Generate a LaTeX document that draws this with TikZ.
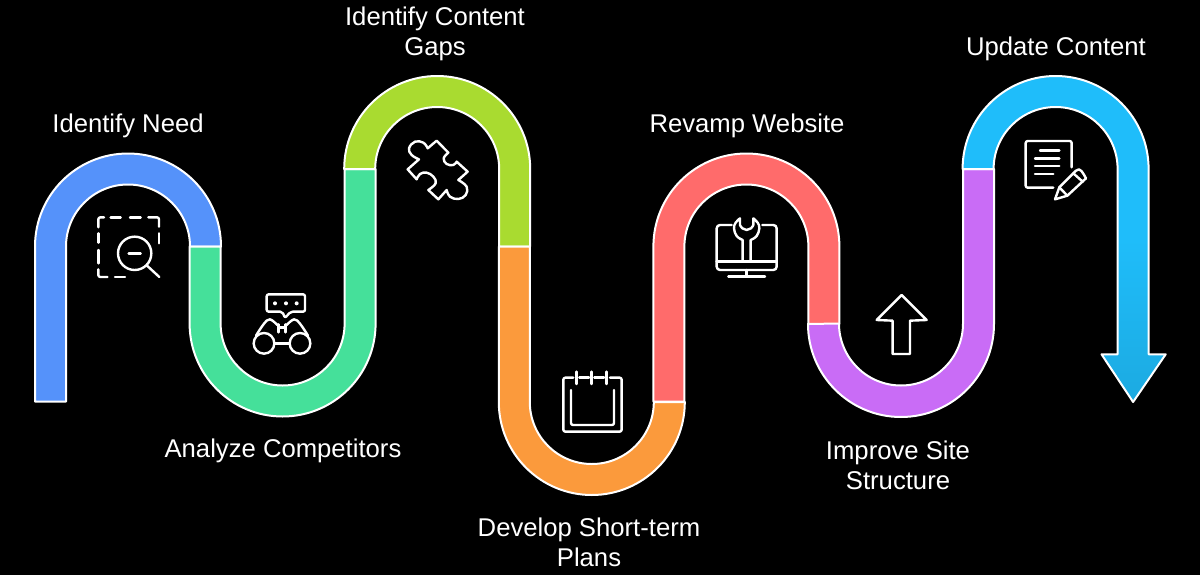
\documentclass[tikz,border=0pt]{standalone}
\usepackage{fontspec}
\setmainfont{Liberation Sans}
\definecolor{cblue}{HTML}{5592FA}
\definecolor{cgreen}{HTML}{45E09A}
\definecolor{clime}{HTML}{A9DB30}
\definecolor{corange}{HTML}{FB9A3C}
\definecolor{cred}{HTML}{FF6B6B}
\definecolor{cpurple}{HTML}{C96CF6}
\definecolor{ccyan}{HTML}{1FBDFA}
\begin{document}
\begin{tikzpicture}[x=0.75pt,y=-0.75pt,font=\fontsize{19.25pt}{22.5pt}\selectfont]
	
	% Styles for the ribbon, the icons and the labels
	\tikzset{
		band/.style={draw=white,line width=1.5pt,line join=round},
		icon/.style={draw=white,line width=1.8pt,line join=round,line cap=round},
		steplabel/.style={text=white,align=center,inner sep=0pt}
	}
	
	% Background
	\fill[black] (0,0) rectangle (1200,575);
	
	%========================================
	% Ribbon
	%========================================
	
	% Identify Need
	\draw[band,fill=cblue] (35,401.5) -- (35,246.5) arc[start angle=180,end angle=360,radius=93]
	-- (190,246.5) arc[start angle=360,end angle=180,radius=62] -- (66,401.5) -- cycle;
	
	% Analyze Competitors
	\draw[band,fill=cgreen] (189.6,246.5) -- (189.6,323.5) arc[start angle=180,end angle=0,radius=93]
	-- (375.6,169) -- (344.6,169) -- (344.6,323.5) arc[start angle=0,end angle=180,radius=62] -- (220.6,246.5) -- cycle;
	
	% Identify Content Gaps
	\draw[band,fill=clime] (344.2,169) arc[start angle=180,end angle=360,radius=93]
	-- (530.2,246.5) -- (499.2,246.5) -- (499.2,169) arc[start angle=360,end angle=180,radius=62] -- cycle;
	
	% Develop Short-term Plans
	\draw[band,fill=corange] (498.8,246.5) -- (498.8,402) arc[start angle=180,end angle=0,radius=93]
	-- (653.8,402) arc[start angle=0,end angle=180,radius=62] -- (529.8,246.5) -- cycle;
	
	% Revamp Website
	\draw[band,fill=cred] (653.4,401.5) -- (653.4,246.5) arc[start angle=180,end angle=360,radius=93]
	-- (839.4,324) -- (808.4,324) -- (808.4,246.5) arc[start angle=360,end angle=180,radius=62] -- (684.4,401.5) -- cycle;
	
	% Improve Site Structure
	\draw[band,fill=cpurple] (808,324) arc[start angle=180,end angle=0,radius=93]
	-- (994,169) -- (963,169) -- (963,323.5) arc[start angle=0,end angle=180,radius=62] -- cycle;
	
	% Update Content
	\draw[band,top color=ccyan,bottom color=ccyan!90!black,middle color=ccyan] (962.6,169) arc[start angle=180,end angle=360,radius=93]
	-- (1148.6,354.3) -- (1165.7,354.3) -- (1133.1,402) -- (1101.5,354.3) -- (1117.6,354.3)
	-- (1117.6,169) arc[start angle=360,end angle=180,radius=62] -- cycle;
	
	%========================================
	% Icons (traced at three times their size)
	%========================================
	
	% Dashed box with magnifier
	\begin{scope}[shift={(80,200)},scale=1/3]
		\draw[icon,rounded corners=1.5pt] (55,82) -- (55,52) -- (72,52);
		\draw[icon] (92,52) -- (122,52) (150,52) -- (182,52);
		\draw[icon,rounded corners=1.5pt] (205,52) -- (237,52) -- (237,80);
		\draw[icon] (237,100) -- (237,130);
		\draw[icon] (55,100) -- (55,128) (55,150) -- (55,190);
		\draw[icon,rounded corners=1.5pt] (55,208) -- (55,231) -- (82,231);
		\draw[icon] (105,231) -- (135,231);
		\draw[icon] (164,160) circle (50);
		\draw[icon] (146,160) -- (182,160);
		\draw[icon] (200,196) -- (238,231);
	\end{scope}
	
	% Binoculars with speech bubble
	\begin{scope}[shift={(240,285)},scale=1/3]
		\draw[icon,rounded corners=1.5pt] (127,80) -- (80,80) -- (80,28) -- (195,28) -- (195,80) -- (152,80) -- (135,99) -- cycle;
		\fill[white] (105,55) circle (6) (138,55) circle (6) (170,55) circle (6);
		\draw[icon] (72,175) circle (31) (180,175) circle (31);
		\draw[icon] (103,175) -- (149,175);
		\draw[icon] plot[smooth,tension=0.6] coordinates {(48,152) (72,116) (90,103) (112,120)};
		\draw[icon] plot[smooth,tension=0.6] coordinates {(204,152) (180,116) (162,103) (140,120)};
		\draw[icon] (115,118) -- (115,142) (137,118) -- (137,142) (115,128) -- (137,128);
	\end{scope}
	
	% Puzzle piece
	\begin{scope}[shift={(395,130)},scale=1/3]
		\draw[icon] (38,118) -- (72,88) -- plot[smooth,tension=0.7] coordinates {(72,88) (50,75) (42,55) (60,35) (85,38) (98,55)}
		-- (125,32) -- (160,68) -- plot[smooth,tension=0.7] coordinates {(160,68) (146,85) (155,102) (175,105) (185,95)}
		-- (218,125) -- (190,150) -- plot[smooth,tension=0.7] coordinates {(190,150) (215,170) (212,195) (190,207) (165,200) (155,180)}
		-- (130,208) -- (100,180) -- plot[smooth,tension=0.7] coordinates {(100,180) (122,160) (115,140) (95,128) (75,132) (65,148)}
		-- cycle;
	\end{scope}
	
	% Calendar
	\begin{scope}[shift={(490,350)},scale=1/3]
		\draw[icon,rounded corners=1.5pt] (250,83) -- (220,83) -- (220,245) -- (395,245) -- (395,83) -- (360,83);
		\draw[icon] (268,83) -- (297,83) (313,83) -- (342,83);
		\draw[icon] (260,65) -- (260,102) (305,65) -- (305,102) (350,65) -- (350,102);
		\draw[icon,rounded corners=1.5pt] (243,120) -- (243,225) -- (372,225) -- (372,120);
	\end{scope}
	
	% Monitor with wrench
	\begin{scope}[shift={(705,210)},scale=1/3]
		\draw[icon,rounded corners=2.5pt] (80,45) -- (35,45) -- (35,180) -- (215,180) -- (215,45) -- (172,45);
		\draw[icon] (35,155) -- (215,155);
		\draw[icon] (125,180) -- (125,200) (70,200) -- (180,200);
		\draw[icon] (113,155) -- (113,90) -- plot[smooth,tension=0.7] coordinates {(113,90) (95,78) (87,55) (92,38) (105,25)}
		-- (105,45) -- plot[smooth,tension=0.7] coordinates {(105,45) (112,55) (125,60) (138,55) (145,45)}
		-- (145,25) -- plot[smooth,tension=0.7] coordinates {(145,25) (158,38) (163,55) (155,78) (137,90)}
		-- (137,155);
	\end{scope}
	
	% Up arrow
	\begin{scope}[shift={(650,150)},scale=1/3]
		\draw[icon] (755,435) -- (830,510) -- (780,512) -- (780,612) -- (728,612) -- (728,512) -- (680,510) -- cycle;
	\end{scope}
	
	% Document with pencil
	\begin{scope}[shift={(1010,130)},scale=1/3]
		\draw[icon,rounded corners=1.5pt] (185,112) -- (185,33) -- (47,33) -- (47,173) -- (130,173);
		\draw[icon] (90,62) -- (148,62) (75,85) -- (148,85) (75,108) -- (148,108) (75,132) -- (130,132);
		\draw[icon] (135,208) -- (148,172) -- (198,122) to[out=45,in=120,looseness=1.2] (228,145)
		-- (172,197) -- cycle;
		\draw[icon] (148,172) -- (172,197) (190,130) -- (218,155);
	\end{scope}
	
	%========================================
	% Labels
	%========================================
	\node[steplabel] (needlabel) at (128,126) {Identify Need};
	\node[steplabel] (competitorslabel) at (283,451) {Analyze Competitors};
	\node[steplabel] (gapslabel) at (435,33.5) {Identify Content\\Gaps};
	\node[steplabel] (planslabel) at (589,542) {Develop Short-term\\Plans};
	\node[steplabel] (revamplabel) at (747,126) {Revamp Website};
	\node[steplabel] (structurelabel) at (898,465) {Improve Site\\Structure};
	\node[steplabel] (updatelabel) at (1056,49) {Update Content};
	
\end{tikzpicture}
\end{document}
